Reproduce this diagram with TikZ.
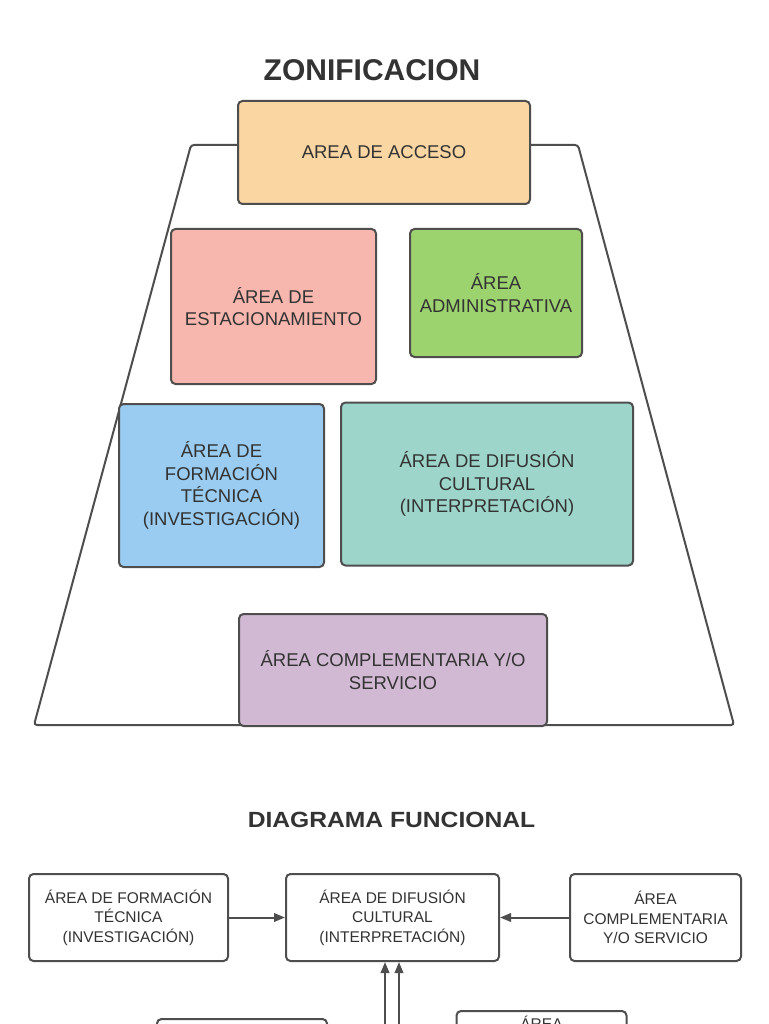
\documentclass[tikz,border=0pt]{standalone}
\usepackage{fontspec}
\setmainfont{Liberation Sans}
\newfontfamily\widesans[FakeStretch=1.12]{Liberation Sans}
\usetikzlibrary{arrows.meta}
\definecolor{bordergray}{HTML}{4E4E4E}
\definecolor{textgray}{HTML}{333333}
\definecolor{cAcceso}{HTML}{FAD6A2}
\definecolor{cEstac}{HTML}{F8B7AE}
\definecolor{cAdmin}{HTML}{9DD36F}
\definecolor{cForm}{HTML}{99CCF0}
\definecolor{cDif}{HTML}{9ED5CA}
\definecolor{cComp}{HTML}{D1B9D3}
\begin{document}
\begin{tikzpicture}[x=1pt,y=-1pt,
  zone/.style={draw=bordergray, line width=2pt, rounded corners=4.5pt, align=center,
    font=\fontsize{18.5}{22.5}\selectfont, text=textgray, inner sep=0pt},
  fun/.style={draw=bordergray, fill=white, line width=2pt, rounded corners=4.5pt, align=center,
    font=\fontsize{15.5}{19.5}\selectfont, text=textgray, inner sep=0pt},
  ttl/.style={text=textgray, inner sep=0pt},
  arr/.style={draw=bordergray, line width=2pt, -{Triangle[length=11pt,width=8.5pt]}},
  trap/.style={draw=bordergray, line width=2pt, rounded corners=3pt}]
\useasboundingbox (0,0) rectangle (768,1024);
\clip (0,0) rectangle (768,1024);
\fill[white] (0,0) rectangle (768,1024);

% ---------- ZONIFICACION ----------
\node[ttl, font=\fontsize{30}{34}\bfseries\selectfont] (t1) at (372,70) {ZONIFICACION};
\draw[trap] (191,145) -- (578,145) -- (734,725) -- (34,725) -- cycle;

\node[zone, fill=cAcceso, minimum width=292pt, minimum height=103pt] (acceso) at (384,152.5) {AREA DE ACCESO};
\node[zone, fill=cEstac, minimum width=205pt, minimum height=155pt] (estac) at (273.5,306.5) {ÁREA DE\\ESTACIONAMIENTO};
\node[zone, fill=cAdmin, minimum width=172pt, minimum height=128pt] (admin) at (496,293) {ÁREA\\ADMINISTRATIVA};
\node[zone, fill=cForm, minimum width=205pt, minimum height=163pt] (form) at (221.5,485.5) {ÁREA DE\\FORMACIÓN\\TÉCNICA\\(INVESTIGACIÓN)};
\node[zone, fill=cDif, minimum width=292pt, minimum height=163pt] (dif) at (487,484) {ÁREA DE DIFUSIÓN\\CULTURAL\\(INTERPRETACIÓN)};
\node[zone, fill=cComp, minimum width=308pt, minimum height=112pt] (comp) at (393,670) {ÁREA COMPLEMENTARIA Y/O\\SERVICIO};

% ---------- DIAGRAMA FUNCIONAL ----------
\node[ttl, font=\widesans\fontsize{22}{26}\bfseries\selectfont] (t2) at (391.5,820) {DIAGRAMA FUNCIONAL};

\node[fun, minimum width=199pt, minimum height=87pt] (fform) at (128.5,917.5) {ÁREA DE FORMACIÓN\\TÉCNICA\\(INVESTIGACIÓN)};
\node[fun, minimum width=213pt, minimum height=87pt] (fdif) at (392.5,917.5) {ÁREA DE DIFUSIÓN\\CULTURAL\\(INTERPRETACIÓN)};
\node[fun, minimum width=171pt, minimum height=87pt] (fcomp) at (655.5,917.5) {ÁREA\\COMPLEMENTARIA\\Y/O SERVICIO};

\node[fun, minimum width=170pt, minimum height=80pt, anchor=north] (fest) at (242,1018) {};
\node[fun, minimum width=170pt, minimum height=80pt, anchor=north] (fadm) at (541.5,1010) {};
\node[font=\fontsize{15.5}{19.5}\selectfont, text=textgray, inner sep=0pt] (fadmlbl) at ([yshift=-13pt]fadm.north) {ÁREA};

\coordinate (v1) at (385,1024);
\coordinate (v2) at (399,1024);

\draw[arr] (fform.east) -- (fdif.west);
\draw[arr] (fcomp.west) -- (fdif.east);
\draw[arr] (v1) -- (v1 |- fdif.south);
\draw[arr] (v2) -- (v2 |- fdif.south);
\end{tikzpicture}
\end{document}
